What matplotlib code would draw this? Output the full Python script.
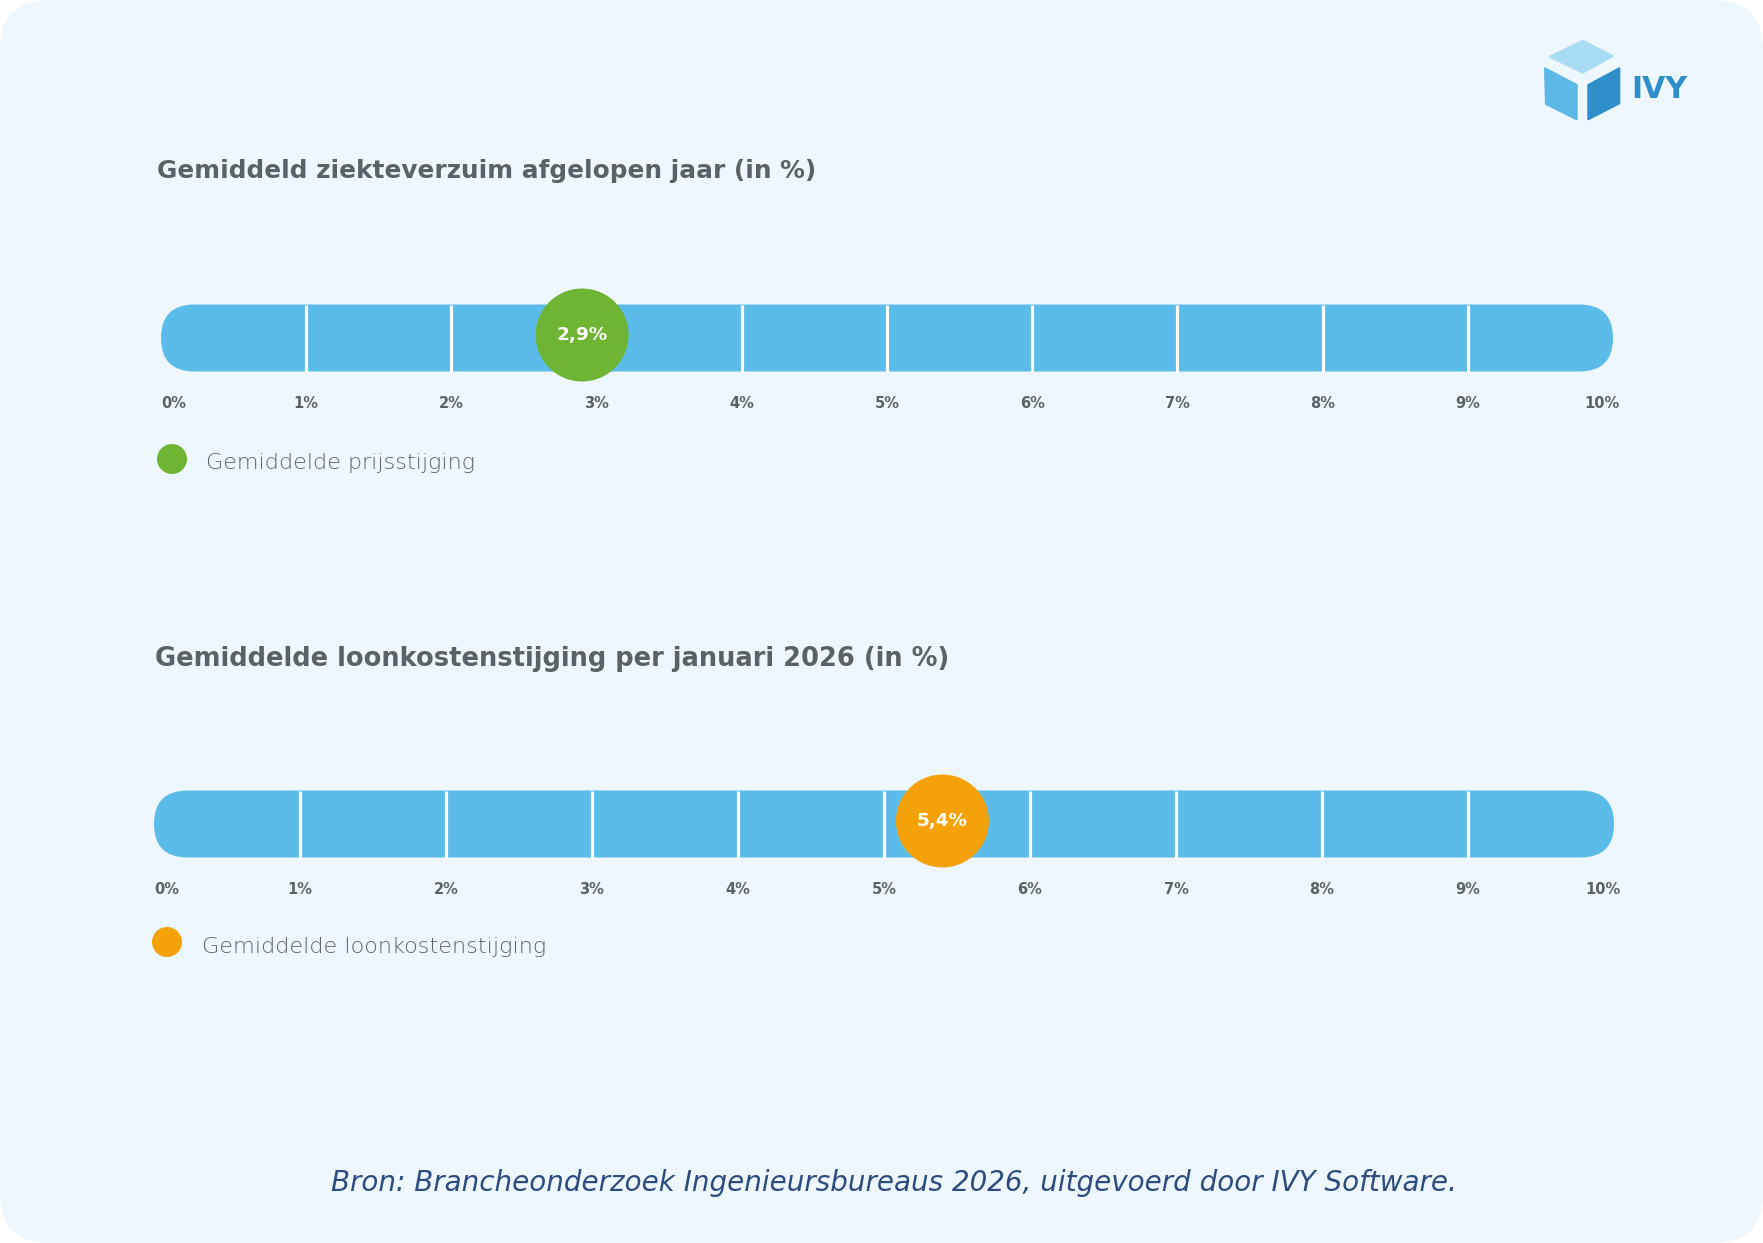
import matplotlib
matplotlib.use("Agg")
import matplotlib.pyplot as plt
from matplotlib.patches import FancyBboxPatch, Circle, Polygon

# ---------------- data ----------------
titles = ["Gemiddeld ziekteverzuim afgelopen jaar (in %)",
          "Gemiddelde loonkostenstijging per januari 2026 (in %)"]
values = [2.9, 5.4]
value_labels = ["2,9%", "5,4%"]
legend_labels = ["Gemiddelde prijsstijging", "Gemiddelde loonkostenstijging"]
tick_values = [0, 1, 2, 3, 4, 5, 6, 7, 8, 9, 10]
tick_labels = ["0%", "1%", "2%", "3%", "4%", "5%", "6%", "7%", "8%", "9%", "10%"]
source_text = "Bron: Brancheonderzoek Ingenieursbureaus 2026, uitgevoerd door IVY Software."
brand = "IVY"

# ---------------- style ----------------
W, H, DPI = 1763, 1243, 100
BG = "#eef7fe"
BAR = "#5bbcea"
MARK_COLORS = ["#6db533", "#f5a20a"]
TITLE_C = "#5c6166"
TICK_C = "#5c6166"
LEG_C = "#5f6369"
SRC_C = "#2b4c7e"
plt.rcParams["font.family"] = ["DejaVu Sans"]

fig = plt.figure(figsize=(W / DPI, H / DPI), dpi=DPI)
fig.patch.set_facecolor("white")
renderer = fig.canvas.get_renderer()

def fit_width(t, target_px):
    bb = t.get_window_extent(renderer)
    t.set_fontsize(t.get_fontsize() * target_px / bb.width)

card = FancyBboxPatch((0, 0), W / DPI, H / DPI,
                      boxstyle="round,pad=0,rounding_size=0.5",
                      transform=fig.dpi_scale_trans,
                      facecolor=BG, edgecolor="none", zorder=0)
fig.add_artist(card)

# layout of the two panels (pixels from top-left)
panels = [
    dict(left=161, right=1613, cy=338, title_x=157, title_base=178, title_w=656,
         leg_cx=172, leg_cy=459, leg_tx=206, leg_ty=463, leg_w=269),
    dict(left=154, right=1614, cy=824, title_x=155, title_base=666, title_w=795,
         leg_cx=167, leg_cy=942, leg_tx=202, leg_ty=947, leg_w=346),
]

BAR_H_PX = 67
MARK_R_PX = 46.5
LEG_R_PX = 15
TICK_DY_PX = 66
DOWN_PX, UP_PX = 170, 110

for i, p in enumerate(panels):
    left, right, cy = p["left"], p["right"], p["cy"]
    scale = (right - left) / (tick_values[-1] - tick_values[0])  # px per unit
    ax = fig.add_axes([left / W, (H - cy - DOWN_PX) / H,
                       (right - left) / W, (DOWN_PX + UP_PX) / H])
    ax.set_xlim(tick_values[0], tick_values[-1])
    ax.set_ylim(-DOWN_PX / scale, UP_PX / scale)
    ax.axis("off")

    h = BAR_H_PX / scale
    bar = FancyBboxPatch((tick_values[0], -h / 2), tick_values[-1] - tick_values[0], h,
                         boxstyle=f"round,pad=0,rounding_size={h / 2}",
                         facecolor=BAR, edgecolor="none", zorder=1)
    ax.add_patch(bar)
    ax.vlines(tick_values[1:-1], -h / 2, h / 2, colors="white", lw=2.3, zorder=2)

    # marker
    ax.add_patch(Circle((values[i], 3 / scale), MARK_R_PX / scale,
                        facecolor=MARK_COLORS[i], edgecolor="none", zorder=3))
    vt = ax.text(values[i], 3 / scale, value_labels[i], ha="center", va="center",
                 color="white", fontsize=14, fontweight="bold", zorder=4)
    fit_width(vt, 51)

    # tick labels
    ty = -TICK_DY_PX / scale
    for t, lab in zip(tick_values, tick_labels):
        if t == tick_values[0]:
            x, ha = t, "left"
        elif t == tick_values[-1]:
            x, ha = t + 7 / scale, "right"
        else:
            x, ha = t, "center"
        ax.text(x, ty, lab, ha=ha, va="center", color=TICK_C,
                fontsize=10.5, fontweight="bold")

    # legend
    lx = (p["leg_cx"] - left) / scale
    ly = -(p["leg_cy"] - cy) / scale
    ax.add_patch(Circle((lx, ly), LEG_R_PX / scale, facecolor=MARK_COLORS[i],
                        edgecolor="none", clip_on=False, zorder=3))
    lt = ax.text((p["leg_tx"] - left) / scale, -(p["leg_ty"] - cy) / scale,
                 legend_labels[i], ha="left", va="center", color=LEG_C,
                 fontsize=15, fontweight="light")
    fit_width(lt, p["leg_w"])

    # title
    tt = fig.text(p["title_x"] / W, 1 - p["title_base"] / H, titles[i],
                  ha="left", va="baseline", color=TITLE_C, fontsize=17,
                  fontweight="bold")
    fit_width(tt, p["title_w"])

# source line
st = fig.text(894 / W, 1 - 1191 / H, source_text, ha="center", va="baseline",
              color=SRC_C, fontsize=19, style="italic")
fit_width(st, 1125)

# logo (decoration)
def px(x, y):
    return (x / DPI, (H - y) / DPI)

faces = [
    ([(1550, 56.7), (1582.7, 40.7), (1612.7, 56), (1582.7, 72.7)], "#a8dcf5"),
    ([(1545, 68.3), (1576.7, 85), (1576.7, 119.3), (1546, 104)], "#5cb8e6"),
    ([(1588.3, 85), (1619.3, 68.3), (1619.3, 103.3), (1588.3, 119.3)], "#2f8fcb"),
]
for pts, col in faces:
    fig.add_artist(Polygon([px(*q) for q in pts], closed=True,
                           transform=fig.dpi_scale_trans, facecolor=col,
                           edgecolor=col, lw=1.5, joinstyle="round"))
bt = fig.text(1631 / W, 1 - 98.5 / H, brand, ha="left", va="baseline",
              color="#2f8fcb", fontsize=26, fontweight="bold")
fit_width(bt, 56)

fig.savefig("out.png", dpi=DPI, facecolor=fig.get_facecolor())
